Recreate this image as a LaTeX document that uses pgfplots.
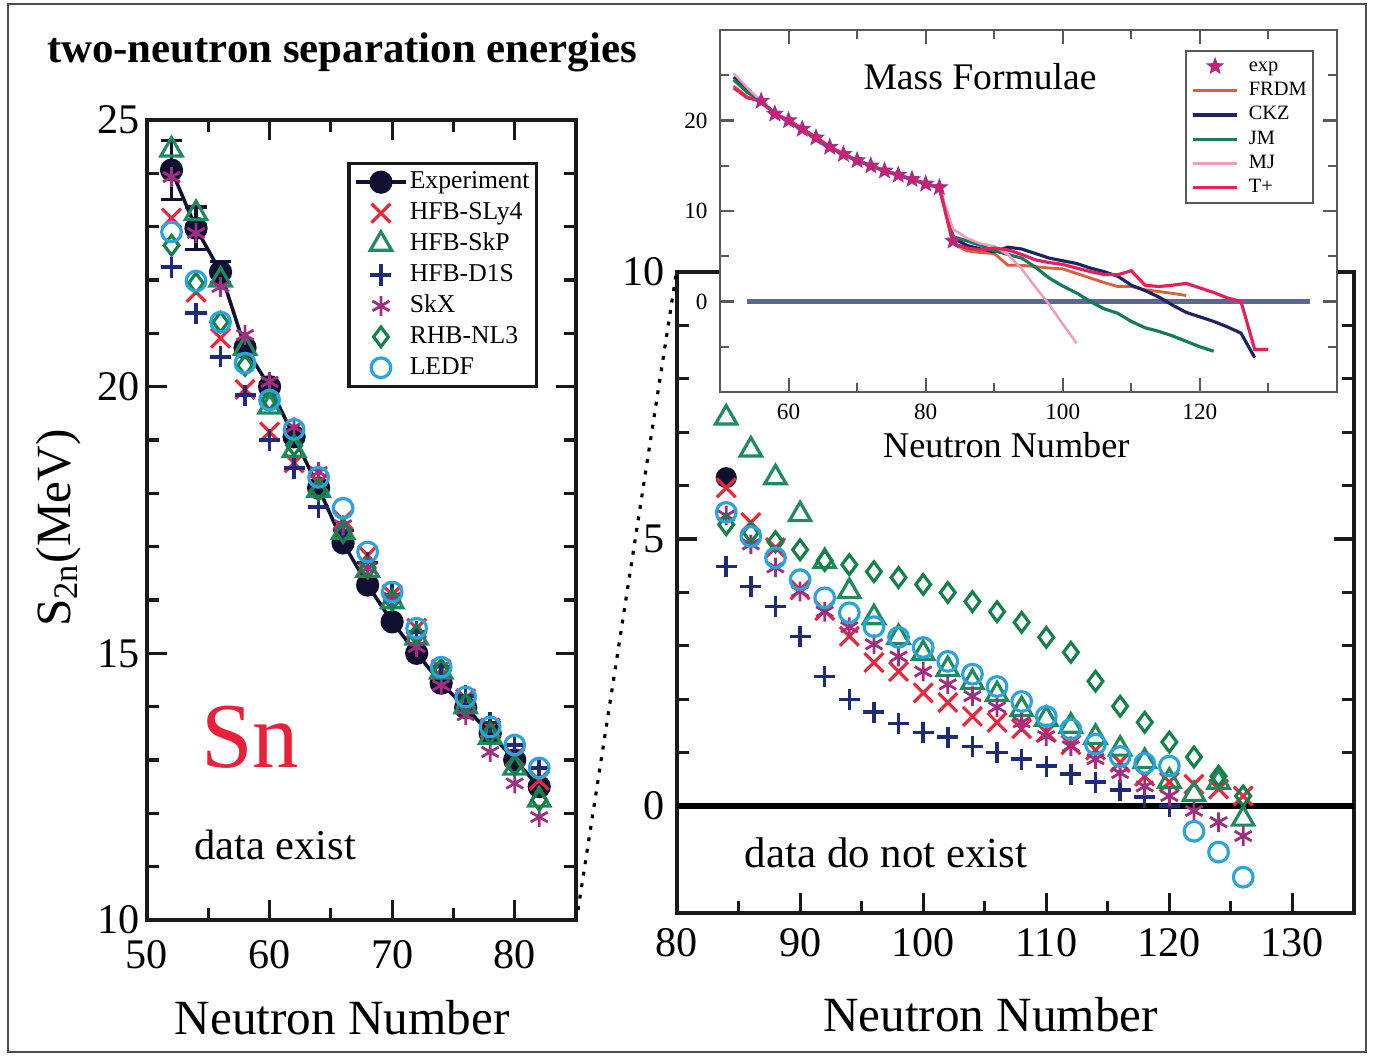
\documentclass[border=0pt]{standalone}
\usepackage{fontspec}
\setmainfont{Liberation Serif}
\usepackage{pgfplots}
\pgfplotsset{compat=1.18}

\definecolor{sly}{HTML}{E8283C}
\definecolor{skp}{HTML}{1E8A5E}
\definecolor{dis}{HTML}{1F2A78}
\definecolor{skx}{HTML}{A0307F}
\definecolor{nlt}{HTML}{14804A}
\definecolor{ledf}{HTML}{2BA3DC}
\definecolor{expc}{HTML}{101030}
\definecolor{snred}{HTML}{E8203A}
\definecolor{frdm}{HTML}{D9603F}
\definecolor{ckz}{HTML}{1C2466}
\definecolor{jm}{HTML}{177A5A}
\definecolor{mj}{HTML}{F09AC0}
\definecolor{tplus}{HTML}{E8205A}
\definecolor{zeroline}{HTML}{5B6699}
\definecolor{starc}{HTML}{D81B6A}
\definecolor{staredge}{HTML}{8A3A9A}

% filled five-point star for the inset
\pgfdeclareplotmark{fstar}{%
  \pgfpathmoveto{\pgfpointpolar{90}{\pgfplotmarksize}}%
  \pgfpathlineto{\pgfpointpolar{126}{0.42\pgfplotmarksize}}%
  \pgfpathlineto{\pgfpointpolar{162}{\pgfplotmarksize}}%
  \pgfpathlineto{\pgfpointpolar{198}{0.42\pgfplotmarksize}}%
  \pgfpathlineto{\pgfpointpolar{234}{\pgfplotmarksize}}%
  \pgfpathlineto{\pgfpointpolar{270}{0.42\pgfplotmarksize}}%
  \pgfpathlineto{\pgfpointpolar{306}{\pgfplotmarksize}}%
  \pgfpathlineto{\pgfpointpolar{342}{0.42\pgfplotmarksize}}%
  \pgfpathlineto{\pgfpointpolar{18}{\pgfplotmarksize}}%
  \pgfpathlineto{\pgfpointpolar{54}{0.42\pgfplotmarksize}}%
  \pgfpathclose
  \pgfusepathqfillstroke}

\pgfplotsset{
  panel/.style={scale only axis, axis line style={line width=0.9pt,black!90},
    tick style={line width=0.9pt,black!90}, tick align=inside,
    major tick length=0.2cm, minor tick length=0.12cm,
    tick label style={font=\fontsize{12}{12}\selectfont},
    label style={font=\fontsize{14}{14}\selectfont},
    /pgf/number format/assume math mode=true},
  mexp/.style={color=expc, mark=*, mark size=2.8pt},
  msly/.style={only marks, color=sly, mark=x, mark size=3.8pt, line width=0.9pt},
  mskp/.style={only marks, color=skp, mark=triangle, mark size=3.5pt, line width=0.9pt},
  mdis/.style={only marks, color=dis, mark=+, mark size=3pt, line width=1pt},
  mskx/.style={only marks, color=skx, mark=asterisk, mark size=2.8pt, line width=0.8pt},
  mnlt/.style={only marks, color=nlt, mark=diamond, mark size=2.8pt, line width=0.9pt},
  mledf/.style={only marks, color=ledf, mark=o, mark size=2.8pt, line width=0.9pt},
}

\begin{document}
\begin{tikzpicture}
\path[use as bounding box] (0,0) rectangle (13.73,10.57);
\draw[black!70, line width=0.7pt] (0.08,0.05) rectangle (13.66,10.53);

\node[font=\bfseries\fontsize{12.2}{13}\selectfont] at (3.42,10.05) {two-neutron separation energies};

% left panel: data exist
\begin{axis}[panel, at={(1.47cm,1.37cm)}, anchor=south west,
  width=4.29cm, height=8.0cm, xmin=50, xmax=85, ymin=10, ymax=25,
  xtick={50,60,70,80}, minor xtick={55,65,75,85},
  ytick={10,15,20,25}, minor y tick num=4,
  xticklabel style={yshift=-0.08cm}, yticklabel style={xshift=0.05cm},
  xlabel={Neutron Number}, ylabel={S\textsubscript{2n}(MeV)},
  xlabel style={at={(axis description cs:0.455,-0.1225)}, anchor=center},
  ylabel style={at={(axis description cs:-0.207,0.49)}, anchor=center},
  legend style={at={(0.467,0.9475)}, anchor=north west, draw=black!90, line width=0.9pt,
    font=\fontsize{7.3}{7.3}\selectfont, inner sep=1.5pt, row sep=1.2pt,
    nodes={inner sep=0.6pt, text height=5pt, text depth=1.4pt}},
  legend cell align=left,
  legend image code/.code={\draw[mark repeat=2,mark phase=2,#1] plot coordinates {(0cm,0cm) (0.25cm,0cm) (0.5cm,0cm)};}]
\addplot[mexp, line width=1pt, error bars/.cd, y dir=both, y explicit,
  error bar style={line width=0.9pt}, error mark options={rotate=90, mark size=3pt, line width=0.9pt}]
  coordinates {(52,24.06) +- (0,0.55) (54,22.97) +- (0,0.4) (56,22.15) +- (0,0.2)
  (58,20.73) +- (0,0) (60,20.0) +- (0,0) (62,19.06) +- (0,0) (64,18.1) +- (0,0)
  (66,17.07) +- (0,0) (68,16.28) +- (0,0) (70,15.59) +- (0,0) (72,15.0) +- (0,0)
  (74,14.44) +- (0,0) (76,13.98) +- (0,0) (78,13.5) +- (0,0) (80,13.0) +- (0,0) (82,12.5) +- (0,0)};
\addlegendentry{Experiment}
\addplot[msly] coordinates {(52,23.16)(54,21.77)(56,20.91)(58,19.95)(60,19.15)(62,18.57)(64,18.2)(66,17.5)(68,16.84)(70,16.1)(72,15.47)(74,14.7)(76,14.15)(78,13.6)(80,13.06)(82,12.62)};
\addlegendentry{HFB-SLy4}
\addplot[mskp] coordinates {(52,24.44)(54,23.25)(56,22.0)(58,20.72)(60,19.62)(62,18.81)(64,18.06)(66,17.27)(68,16.56)(70,15.97)(72,15.29)(74,14.65)(76,14.0)(78,13.43)(80,12.85)(82,12.25)};
\addlegendentry{HFB-SkP}
\addplot[mdis] coordinates {(52,22.24)(54,21.38)(56,20.56)(58,19.84)(60,19.0)(62,18.47)(64,17.74)(66,17.3)(68,16.7)(70,16.1)(72,15.4)(74,14.75)(76,14.2)(78,13.7)(80,13.28)(82,12.85)};
\addlegendentry{HFB-D1S}
\addplot[mskx] coordinates {(52,23.93)(54,22.88)(56,21.87)(58,20.97)(60,20.09)(62,19.24)(64,18.4)(66,17.4)(68,16.6)(70,16.04)(72,15.12)(74,14.4)(76,13.84)(78,13.15)(80,12.56)(82,11.93)};
\addlegendentry{SkX}
\addplot[mnlt] coordinates {(52,22.65)(54,21.94)(56,21.21)(58,20.4)(60,19.75)(62,18.9)(64,18.06)(66,17.27)(68,16.6)(70,16.0)(72,15.35)(74,14.7)(76,14.05)(78,13.5)(80,12.9)(82,12.25)};
\addlegendentry{RHB-NL3}
\addplot[mledf] coordinates {(52,22.9)(54,21.98)(56,21.21)(58,20.44)(60,19.75)(62,19.2)(64,18.3)(66,17.72)(68,16.9)(70,16.15)(72,15.47)(74,14.74)(76,14.18)(78,13.62)(80,13.28)(82,12.85)};
\addlegendentry{LEDF}
\end{axis}

\node[text=snred, font=\fontsize{26.4}{27}\selectfont] at (2.50,3.20) {Sn};
\node[font=\fontsize{12.1}{13}\selectfont] at (2.75,2.12) {data exist};

% right panel: data do not exist
\begin{axis}[panel, at={(6.77cm,1.44cm)}, anchor=south west,
  width=6.77cm, height=6.41cm, xmin=80, xmax=135, ymin=-2, ymax=10,
  xtick={80,90,...,130}, minor xtick={85,95,...,135},
  ytick={0,5,10}, minor y tick num=4,
  xticklabel style={yshift=-0.03cm},
  xlabel={Neutron Number},
  xlabel style={at={(axis description cs:0.463,-0.159)}, anchor=center}]
\addplot[black, line width=1.6pt, forget plot] coordinates {(80,0) (135,0)};
\addplot[mexp, only marks] coordinates {(84,6.15)};
\addplot[msly] coordinates {(84,5.96)(86,5.31)(88,4.84)(90,4.05)(92,3.66)(94,3.18)(96,2.69)(98,2.52)(100,2.12)(102,1.94)(104,1.68)(106,1.57)(108,1.45)(110,1.38)(112,1.15)(114,1.05)(116,0.82)(118,0.56)(120,0.45)(122,0.41)(124,0.32)(126,0.19)};
\addplot[mskp] coordinates {(84,7.27)(86,6.67)(88,6.15)(90,5.46)(92,4.58)(94,4.02)(96,3.53)(98,3.16)(100,2.86)(102,2.56)(104,2.32)(106,2.09)(108,1.81)(110,1.63)(112,1.5)(114,1.29)(116,1.07)(118,0.84)(120,0.47)(122,0.22)(124,0.45)(126,-0.24)};
\addplot[mdis] coordinates {(84,4.49)(86,4.11)(88,3.74)(90,3.18)(92,2.43)(94,2.0)(96,1.76)(98,1.55)(100,1.38)(102,1.29)(104,1.12)(106,1.0)(108,0.88)(110,0.75)(112,0.6)(114,0.45)(116,0.3)(118,0.17)(120,0.0)};
\addplot[mskx] coordinates {(84,5.44)(86,4.9)(88,4.47)(90,4.02)(92,3.64)(94,3.35)(96,3.03)(98,2.8)(100,2.52)(102,2.28)(104,2.06)(106,1.85)(108,1.57)(110,1.31)(112,1.12)(114,0.88)(116,0.62)(118,0.37)(120,0.19)(122,-0.09)(124,-0.3)(126,-0.56)};
\addplot[mnlt] coordinates {(84,5.27)(86,5.12)(88,4.95)(90,4.8)(92,4.6)(94,4.52)(96,4.39)(98,4.28)(100,4.15)(102,4.0)(104,3.83)(106,3.64)(108,3.44)(110,3.16)(112,2.88)(114,2.34)(116,1.87)(118,1.57)(120,1.2)(122,0.92)(124,0.56)(126,0.19)};
\addplot[mledf] coordinates {(84,5.5)(86,5.05)(88,4.65)(90,4.24)(92,3.9)(94,3.62)(96,3.36)(98,3.16)(100,2.97)(102,2.71)(104,2.47)(106,2.24)(108,1.96)(110,1.68)(112,1.44)(114,1.16)(116,0.93)(118,0.8)(120,0.75)(122,-0.47)(124,-0.86)(126,-1.33)};
\end{axis}

\node[font=\fontsize{12.2}{13}\selectfont] at (8.86,2.04) {data do not exist};
\draw[black, line width=0.9pt, dash pattern=on 1.1pt off 2.2pt] (5.78,1.47) -- (6.76,7.82);

% inset: mass formulae
\begin{axis}[scale only axis, at={(7.20cm,6.65cm)}, anchor=south west,
  width=6.17cm, height=3.62cm, xmin=50, xmax=140, ymin=-10, ymax=30,
  axis background/.style={fill=white},
  axis line style={line width=0.6pt,black!65}, tick style={line width=0.6pt,black!65},
  tick align=inside, major tick length=0.14cm, minor tick length=0.09cm,
  xtick={60,80,100,120}, minor xtick={50,70,90,110,130},
  ytick={0,10,20}, minor ytick={-5,5,15,25},
  tick label style={font=\fontsize{6.6}{7}\selectfont},
  /pgf/number format/assume math mode=true,
  xlabel={Neutron Number}, label style={font=\fontsize{10.3}{11}\selectfont},
  xlabel style={at={(axis description cs:0.464,-0.146)}, anchor=center},
  legend style={at={(0.754,0.945)}, anchor=north west, draw=black!65, line width=0.6pt,
    font=\fontsize{5.8}{5.8}\selectfont, inner sep=1.5pt, row sep=1.1pt,
    nodes={inner sep=0.4pt, text height=3.9pt, text depth=1.1pt},
    /tikz/every odd column/.append style={column sep=2.5pt}},
  legend cell align=left,
  legend image code/.code={\draw[mark repeat=2,mark phase=2,#1] plot coordinates {(0cm,0cm) (0.22cm,0cm) (0.44cm,0cm)};}]
\addlegendimage{only marks, mark=fstar, mark size=2.3pt, draw=staredge, fill=starc, line width=0.3pt}
\addlegendentry{exp}
\addplot[zeroline, line width=1.2pt, forget plot] coordinates {(54,0) (136,0)};
\addplot[frdm, line width=0.8pt] coordinates {(52,23.8)(54,22.6)(56,22.15)(58,20.73)(60,20.0)(62,19.06)(64,18.1)(66,17.07)(68,16.28)(70,15.59)(72,15.0)(74,14.44)(76,13.98)(78,13.5)(80,13.0)(82,12.6)(84,6.4)(86,5.6)(88,5.4)(90,5.3)(92,4.0)(94,4.0)(96,3.85)(98,3.7)(100,3.6)(102,3.1)(104,2.6)(106,2.1)(108,1.65)(110,1.65)(112,1.3)(114,1.1)(116,0.9)(118,0.66)};
\addlegendentry{FRDM}
\addplot[ckz, line width=0.9pt] coordinates {(52,24.8)(54,23.3)(56,22.15)(58,20.73)(60,20.0)(62,19.06)(64,18.1)(66,17.07)(68,16.28)(70,15.59)(72,15.0)(74,14.44)(76,13.98)(78,13.5)(80,13.0)(82,12.6)(84,7.0)(86,6.2)(88,5.8)(90,5.5)(92,6.0)(94,5.8)(96,5.3)(98,4.8)(100,4.5)(102,4.2)(104,3.7)(106,3.3)(108,2.8)(110,1.8)(112,1.2)(114,0.5)(116,-0.4)(118,-1.2)(120,-1.7)(122,-2.2)(124,-2.8)(126,-3.5)(128,-6.2)};
\addlegendentry{CKZ}
\addplot[jm, line width=0.9pt] coordinates {(52,24.5)(54,23.1)(56,22.15)(58,20.73)(60,20.0)(62,19.06)(64,18.1)(66,17.07)(68,16.28)(70,15.59)(72,15.0)(74,14.44)(76,13.98)(78,13.5)(80,13.0)(82,12.6)(84,7.15)(86,6.7)(88,6.2)(90,5.6)(92,5.2)(94,4.8)(96,3.8)(98,2.6)(100,1.7)(102,0.95)(104,0.0)(106,-0.8)(108,-1.3)(110,-2.2)(112,-2.9)(114,-3.3)(116,-3.8)(118,-4.4)(120,-5.0)(122,-5.5)};
\addlegendentry{JM}
\addplot[mj, line width=0.7pt] coordinates {(52,25.2)(54,23.6)(56,22.15)(58,20.73)(60,20.0)(62,19.06)(64,18.1)(66,17.07)(68,16.28)(70,15.59)(72,15.0)(74,14.44)(76,13.98)(78,13.5)(80,13.0)(82,12.6)(84,8.0)(86,7.0)(88,6.4)(90,6.1)(92,5.2)(94,3.6)(96,1.6)(98,-0.3)(100,-2.5)(102,-4.6)};
\addlegendentry{MJ}
\addplot[tplus, line width=0.9pt] coordinates {(52,23.6)(54,22.5)(56,22.15)(58,20.73)(60,20.0)(62,19.06)(64,18.1)(66,17.07)(68,16.28)(70,15.59)(72,15.0)(74,14.44)(76,13.98)(78,13.5)(80,13.0)(82,12.6)(84,6.4)(86,5.9)(88,5.7)(90,5.9)(92,5.7)(94,5.2)(96,4.6)(98,4.3)(100,4.1)(102,3.7)(104,3.3)(106,3.0)(108,2.95)(110,3.4)(112,1.8)(114,1.65)(116,1.8)(118,2.0)(120,1.5)(122,1.0)(124,0.4)(126,0.0)(128,-5.3)(130,-5.3)};
\addlegendentry{T+}
\addplot[only marks, mark=fstar, mark size=2.3pt, draw=staredge, fill=starc, line width=0.3pt, forget plot]
  coordinates {(56,22.15)(58,20.73)(60,20.0)(62,19.06)(64,18.1)(66,17.07)(68,16.28)(70,15.59)(72,15.0)(74,14.44)(76,13.98)(78,13.5)(80,13.0)(82,12.6)(84,6.7)};
\end{axis}
\node[font=\fontsize{10.7}{11}\selectfont] at (9.80,9.80) {Mass Formulae};
\end{tikzpicture}
\end{document}
